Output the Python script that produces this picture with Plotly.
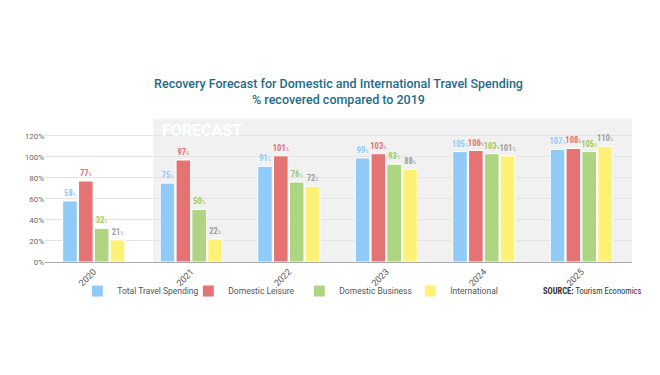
import plotly.graph_objects as go

years = ["2020", "2021", "2022", "2023", "2024", "2025"]
total_travel = [58, 75, 91, 99, 105, 107]
domestic_leisure = [77, 97, 101, 103, 106, 108]
domestic_business = [32, 50, 76, 93, 103, 105]
international = [21, 22, 72, 88, 101, 110]
y_ticks = [0, 20, 40, 60, 80, 100, 120]
y_tick_labels = [f"{v}%" for v in y_ticks]

series = [
    ("Total Travel Spending", total_travel, "#90CAF9", "#90CAF9"),
    ("Domestic Leisure", domestic_leisure, "#E57373", "#E57373"),
    ("Domestic Business", domestic_business, "#AED581", "#9CCC65"),
    ("International", international, "#FFF176", "#A0A0A0"),
]

FONT = "Roboto"
NARROW = "Liberation Sans Narrow, Roboto Condensed, Roboto"

fig = go.Figure()
for name, vals, col, tcol in series:
    fig.add_trace(go.Bar(
        x=years, y=vals, name=name,
        marker=dict(color=col, line=dict(color="white", width=1)),
        text=vals,
        texttemplate="<b>%{y}</b><span style='font-size:5px'>%</span>",
        textposition="outside",
        constraintext="none",
        textfont=dict(color=tcol, size=8.5, family=NARROW),
        cliponaxis=False,
    ))

fig.add_shape(type="rect", xref="x", yref="paper", x0=0.61, x1=5.52, y0=0, y1=1,
              fillcolor="#F1F1F1", line=dict(width=0), layer="below")
fig.add_annotation(text="<b>FORECAST</b>", xref="x", yref="paper", x=0.68, y=1.0,
                   xanchor="left", yanchor="top", showarrow=False,
                   font=dict(color="white", size=16, family=FONT))
fig.add_annotation(text="<b>SOURCE:</b> Tourism Economics", xref="paper", yref="paper",
                   x=1.02, y=-0.203, xanchor="right", yanchor="middle", showarrow=False,
                   font=dict(color="#333333", size=8.5, family=NARROW))

fig.update_layout(
    width=660, height=375,
    margin=dict(l=37, r=36, t=111, b=121, autoexpand=False),
    paper_bgcolor="white", plot_bgcolor="rgba(0,0,0,0)",
    title=dict(text="Recovery Forecast for Domestic and International Travel Spending<br>% recovered compared to 2019",
               x=0.5, xanchor="center", xref="paper", y=0.787, yanchor="middle",
               font=dict(color="#1E6B87", size=12.5, family=FONT, weight=500)),
    barmode="group", bargap=0.35, bargroupgap=0.08,
    showlegend=True,
    legend=dict(orientation="h", x=0.055, y=-0.203, xanchor="left", yanchor="middle",
                bgcolor="rgba(0,0,0,0)",
                font=dict(size=8.5, color="#555555", family=FONT),
                entrywidth=66, traceorder="normal"),
    font=dict(family=FONT),
)
fig.update_xaxes(tickangle=-45, tickfont=dict(size=9, color="#555555"), automargin=False,
                 showline=True, linecolor="#AAAAAA", linewidth=1, ticks="")
fig.update_yaxes(range=[0, 136], tickvals=y_ticks, ticktext=y_tick_labels, automargin=False,
                 tickfont=dict(size=8, color="#666666"), gridcolor="#E4E4E4",
                 zeroline=False, showline=False)

fig.write_html("out.html")
